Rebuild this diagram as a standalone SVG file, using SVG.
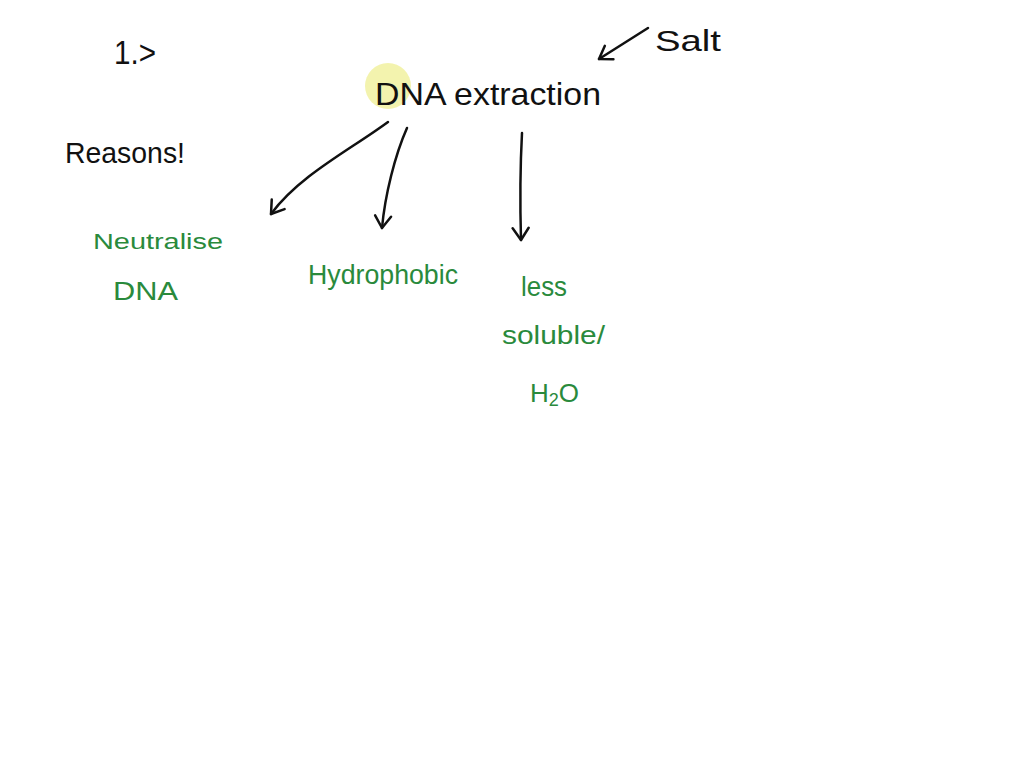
<svg xmlns="http://www.w3.org/2000/svg" width="1024" height="768" viewBox="0 0 1024 768">
<style>
.ink{font-family:"Liberation Sans","DejaVu Sans",sans-serif;fill:#111}
.grn{font-family:"Liberation Sans","DejaVu Sans",sans-serif;fill:#2a8a3c}
.ln{fill:none;stroke:#111;stroke-width:2.5;stroke-linecap:round;stroke-linejoin:round}
</style>
<defs>
<marker id="ah" viewBox="0 0 20 20" refX="14" refY="10" markerWidth="20" markerHeight="20" markerUnits="userSpaceOnUse" orient="auto">
<path d="M2,2 L14,10 L2,18" fill="none" stroke="#111" stroke-width="2.5" stroke-linecap="round" stroke-linejoin="round"/>
</marker>
</defs>
<rect width="1024" height="768" fill="#fff"/>
<g id="number"><text class="ink" x="114" y="64" font-size="34" textLength="42" lengthAdjust="spacingAndGlyphs">1.&gt;</text></g>
<g id="salt"><text class="ink" x="655" y="51" font-size="30" textLength="66" lengthAdjust="spacingAndGlyphs">Salt</text></g>
<g id="dna-extraction">
<circle cx="388" cy="86" r="23" fill="#f1f1a0" opacity="0.85"/>
<text class="ink" x="375" y="105" font-size="32" textLength="226" lengthAdjust="spacingAndGlyphs">DNA extraction</text>
</g>
<g id="reasons"><text class="ink" x="65" y="163" font-size="30" textLength="120" lengthAdjust="spacingAndGlyphs">Reasons!</text></g>
<g id="neutralise"><text class="grn" x="93" y="249" font-size="22" textLength="130" lengthAdjust="spacingAndGlyphs">Neutralise</text>
<text class="grn" x="113" y="300" font-size="26" textLength="65" lengthAdjust="spacingAndGlyphs">DNA</text></g>
<g id="hydrophobic"><text class="grn" x="308" y="284" font-size="28" textLength="150" lengthAdjust="spacingAndGlyphs">Hydrophobic</text></g>
<g id="less-soluble">
<text class="grn" x="521" y="296" font-size="28" textLength="46" lengthAdjust="spacingAndGlyphs">less</text>
<text class="grn" x="502" y="344" font-size="26" textLength="103" lengthAdjust="spacingAndGlyphs">soluble/</text>
<text class="grn" x="530" y="402" font-size="26">H<tspan font-size="18" dy="4">2</tspan><tspan dy="-4">O</tspan></text>
</g>
<g id="connectors">
<path class="ln" d="M648,28 L599,59" marker-end="url(#ah)"/>
<path class="ln" d="M388,122 C350,150 300,175 271,214" marker-end="url(#ah)"/>
<path class="ln" d="M407,128 C395,155 385,195 382,228" marker-end="url(#ah)"/>
<path class="ln" d="M522,133 C520,170 520,205 521,240" marker-end="url(#ah)"/>
</g>
</svg>
